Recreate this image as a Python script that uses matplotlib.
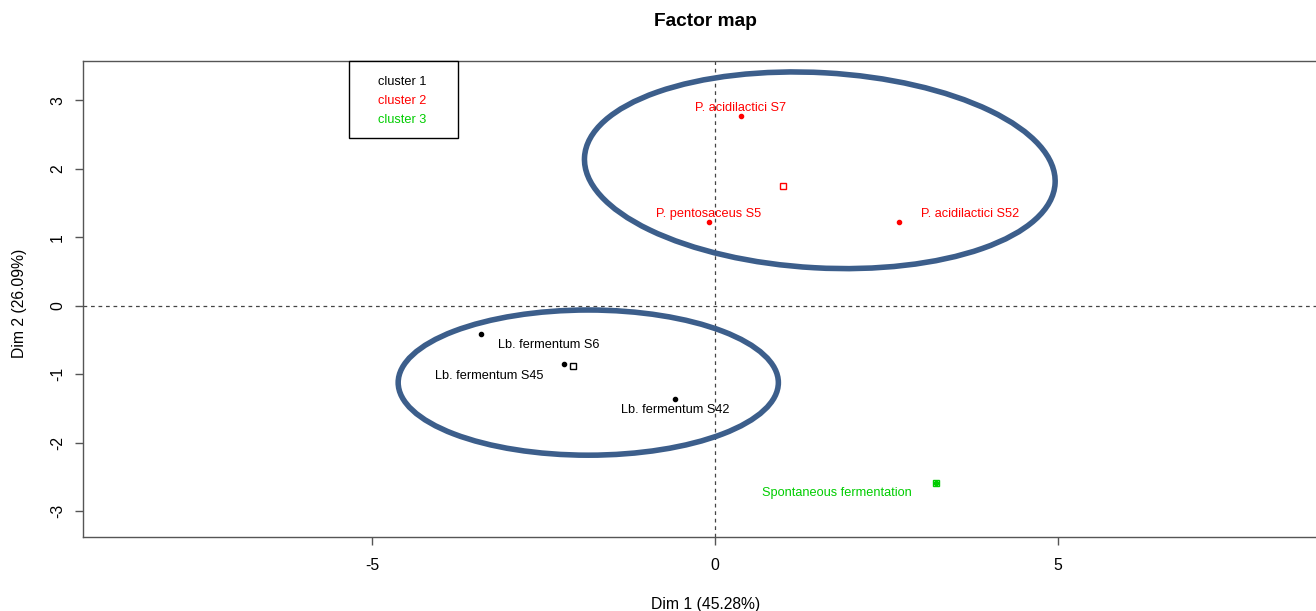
import numpy as np
import matplotlib
matplotlib.use("Agg")
import matplotlib.pyplot as plt
from matplotlib.patches import Ellipse, Rectangle

plt.rcParams.update(
    {
        "font.family": ["Liberation Sans", "DejaVu Sans"],
        "font.size": 11.3,
        "axes.linewidth": 1.0,
        "axes.unicode_minus": False,
    }
)

# %% DATOS (coordenadas en el plano factorial)
nombres = [
    "Lb. fermentum S6",
    "Lb. fermentum S45",
    "Lb. fermentum S42",
    "P. acidilactici S7",
    "P. pentosaceus S5",
    "P. acidilactici S52",
    "Spontaneous fermentation",
]
dim1 = [-3.42, -2.21, -0.58, 0.38, -0.09, 2.69, 3.23]
dim2 = [-0.41, -0.85, -1.36, 2.77, 1.23, 1.23, -2.58]
cluster = [1, 1, 1, 2, 2, 2, 3]

# elipses: centro x, centro y, ancho, alto, angulo
elipses = [
    (-1.85, -1.12, 5.55, 2.12, 0.0),
    (1.53, 1.98, 6.88, 2.85, -3.2),
]

colores = {1: "black", 2: "#FF0000", 3: "#00CD00"}
col_elipse = "#3c5e8b"

# desplazamiento de cada etiqueta respecto del punto (en pixeles)
offsets = [(68, -11), (-74, -12), (0, -11), (0, 8), (0, 8), (71, 8), (-99, -10)]

W, H = 1316, 611
fig = plt.figure(figsize=(W / 100, H / 100), dpi=100)
ax = fig.add_axes([83 / W, (H - 536.7) / H, (1347 - 83) / W, (536.7 - 60.7) / H])

ax.set_xlim(-9.226, 9.226)
ax.set_ylim(-3.37, 3.58)

ax.axhline(0, color="#444444", linestyle=(0, (3, 3)), linewidth=0.9, zorder=1)
ax.axvline(0, color="#444444", linestyle=(0, (3, 3)), linewidth=0.9, zorder=1)

for cx, cy, ew, eh, ang in elipses:
    ax.add_patch(
        Ellipse((cx, cy), ew, eh, angle=ang, fill=False,
                edgecolor=col_elipse, linewidth=4.0, zorder=2)
    )

x = np.array(dim1)
y = np.array(dim2)
cl = np.array(cluster)
for i, nom in enumerate(nombres):
    c = colores[cluster[i]]
    ax.plot(x[i], y[i], "o", color=c, markersize=3.0, zorder=4)
    ax.annotate(nom, (x[i], y[i]), xytext=offsets[i], textcoords="offset pixels",
                ha="center", va="center", color=c, fontsize=9.2, zorder=5)

# centros de cada cluster
for k in sorted(colores):
    mx = x[cl == k].mean()
    my = y[cl == k].mean()
    ax.plot(mx, my, "s", markerfacecolor="none", markeredgecolor=colores[k],
            markersize=4.6, markeredgewidth=1.0, zorder=6)

ax.set_xticks([-5, 0, 5])
ax.set_yticks([-3, -2, -1, 0, 1, 2, 3])
ax.tick_params(direction="out", length=6, width=1.0, color="#555555")
ax.tick_params(axis="x", pad=9)
ax.tick_params(axis="y", pad=7)
plt.setp(ax.get_yticklabels(), rotation=90, va="center")
for s in ax.spines.values():
    s.set_color("#555555")

ax.set_xlabel("Dim 1 (45.28%)")
ax.xaxis.set_label_coords((706 - 83) / 1264, (536.7 - 605) / 476)
ax.xaxis.label.set_va("center")
ax.set_ylabel("Dim 2 (26.09%)")
ax.yaxis.set_label_coords((20 - 83) / 1264, 0.49)
ax.yaxis.label.set_va("center")

fig.text(705 / W, 1 - 22 / H, "Factor map", ha="center", va="center",
         fontsize=13.8, fontweight="bold")

# leyenda estilo R
x0, x1 = (349 - 83) / 1264, (458 - 83) / 1264
y0, y1 = (536.7 - 138) / 476, 1.0
ax.add_patch(Rectangle((x0, y0), x1 - x0, y1 - y0, transform=ax.transAxes,
                       fill=True, facecolor="white", edgecolor="black",
                       linewidth=1.0, zorder=7, clip_on=False))
for j, k in enumerate(sorted(colores)):
    ax.text((378 - 83) / 1264, (536.7 - (82 + 19 * j)) / 476, f"cluster {k}",
            transform=ax.transAxes, ha="left", va="center",
            color=colores[k], fontsize=9.2, zorder=8)

fig.savefig("out.png", dpi=100)
